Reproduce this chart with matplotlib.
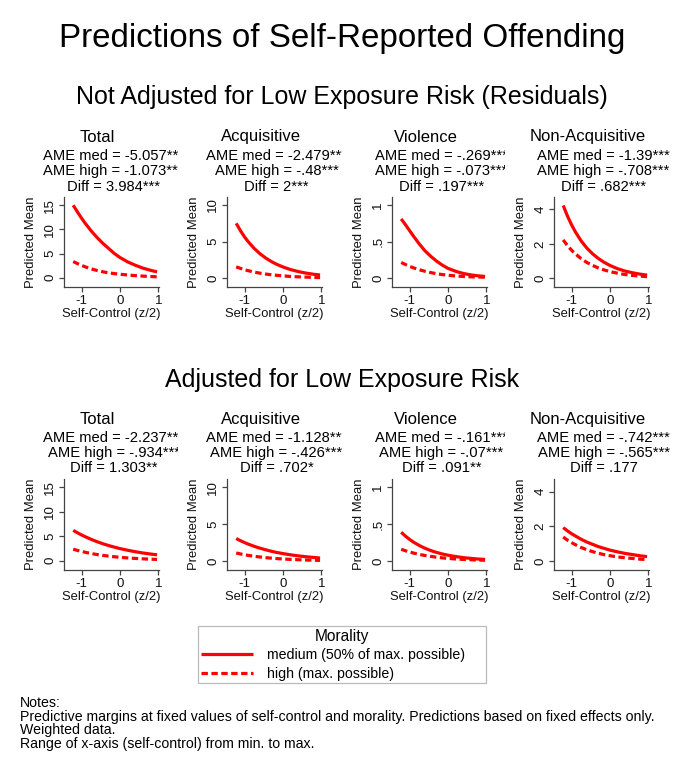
import matplotlib
matplotlib.use("Agg")
import matplotlib.pyplot as plt
from matplotlib.transforms import Bbox, TransformedBbox

plt.rcParams['font.family'] = ['Liberation Sans', 'DejaVu Sans']

# ---------------- data ----------------
categories = ['Total', 'Acquisitive', 'Violence', 'Non-Acquisitive']
self_control = [-1.22, -1.1, -1.0, -0.9, -0.75, -0.6, -0.45, -0.3, -0.15, 0.0, 0.2, 0.4, 0.6, 0.8, 0.97]

# Not adjusted (residuals)
nadj_total_med = [15.0, 13.5, 12.3, 11.2, 9.7, 8.35, 7.15, 6.1, 5.05, 4.2, 3.3, 2.6, 2.0, 1.55, 1.22]
nadj_total_high = [3.36, 2.9, 2.55, 2.25, 1.85, 1.52, 1.25, 1.03, 0.87, 0.74, 0.58, 0.45, 0.35, 0.27, 0.2]
nadj_acq_med = [7.5, 6.42, 5.63, 4.95, 4.07, 3.35, 2.76, 2.27, 1.87, 1.54, 1.18, 0.91, 0.70, 0.54, 0.44]
nadj_acq_high = [1.55, 1.33, 1.16, 1.02, 0.84, 0.69, 0.57, 0.47, 0.39, 0.32, 0.24, 0.19, 0.15, 0.11, 0.09]
nadj_viol_med = [0.81, 0.725, 0.65, 0.575, 0.47, 0.375, 0.30, 0.235, 0.18, 0.135, 0.095, 0.065, 0.045, 0.032, 0.024]
nadj_viol_high = [0.215, 0.185, 0.162, 0.142, 0.116, 0.095, 0.077, 0.062, 0.05, 0.041, 0.031, 0.024, 0.019, 0.016, 0.014]
nadj_nonacq_med = [4.23, 3.57, 3.10, 2.69, 2.17, 1.75, 1.42, 1.15, 0.93, 0.75, 0.56, 0.42, 0.32, 0.24, 0.19]
nadj_nonacq_high = [2.23, 1.88, 1.63, 1.42, 1.14, 0.92, 0.75, 0.60, 0.49, 0.39, 0.30, 0.22, 0.17, 0.13, 0.10]

# Adjusted for low exposure risk
adj_total_med = [6.2, 5.67, 5.26, 4.88, 4.36, 3.89, 3.48, 3.11, 2.78, 2.48, 2.14, 1.84, 1.58, 1.36, 1.20]
adj_total_high = [2.35, 2.08, 1.89, 1.71, 1.47, 1.26, 1.09, 0.94, 0.81, 0.69, 0.57, 0.47, 0.38, 0.31, 0.26]
adj_acq_med = [3.05, 2.74, 2.50, 2.29, 2.00, 1.75, 1.53, 1.33, 1.16, 1.02, 0.85, 0.71, 0.59, 0.50, 0.42]
adj_acq_high = [1.1, 0.96, 0.86, 0.77, 0.66, 0.56, 0.47, 0.40, 0.34, 0.29, 0.23, 0.19, 0.15, 0.12, 0.10]
adj_viol_med = [0.39, 0.334, 0.293, 0.257, 0.212, 0.174, 0.143, 0.118, 0.097, 0.080, 0.062, 0.047, 0.037, 0.028, 0.023]
adj_viol_high = [0.16, 0.139, 0.123, 0.109, 0.091, 0.076, 0.064, 0.053, 0.044, 0.037, 0.029, 0.023, 0.018, 0.014, 0.012]
adj_nonacq_med = [1.93, 1.73, 1.58, 1.45, 1.26, 1.10, 0.97, 0.84, 0.74, 0.64, 0.54, 0.45, 0.38, 0.31, 0.27]
adj_nonacq_high = [1.39, 1.20, 1.07, 0.95, 0.79, 0.66, 0.55, 0.46, 0.38, 0.32, 0.25, 0.20, 0.16, 0.12, 0.10]

nadj_ame_med = ['-5.057***', '-2.479***', '-.269***', '-1.39***']
nadj_ame_high = ['-1.073***', '-.48***', '-.073***', '-.708***']
nadj_diff = ['3.984***', '2***', '.197***', '.682***']
adj_ame_med = ['-2.237***', '-1.128***', '-.161***', '-.742***']
adj_ame_high = ['-.934***', '-.426***', '-.07***', '-.565***']
adj_diff = ['1.303**', '.702*', '.091**', '.177']

y_ticks = [[0, 5, 10, 15], [0, 5, 10], [0, .5, 1], [0, 2, 4]]
y_ticklabels = [['0', '5', '10', '15'], ['0', '5', '10'], ['0', '.5', '1'], ['0', '2', '4']]
y_limits = [(-1.9, 16.7), (-1.2, 11.1), (-0.12, 1.11), (-0.5, 4.72)]
x_ticks = [-1, 0, 1]
x_ticklabels = ['-1', '0', '1']

legend_labels = ['medium (50% of max. possible)', 'high (max. possible)']
notes = ['Notes:',
         'Predictive margins at fixed values of self-control and morality. Predictions based on fixed effects only.',
         'Weighted data.',
         'Range of x-axis (self-control) from min. to max.']

rows = [
    dict(sub='Not Adjusted for Low Exposure Risk (Residuals)',
         med=[nadj_total_med, nadj_acq_med, nadj_viol_med, nadj_nonacq_med],
         high=[nadj_total_high, nadj_acq_high, nadj_viol_high, nadj_nonacq_high],
         ame_med=nadj_ame_med, ame_high=nadj_ame_high, diff=nadj_diff),
    dict(sub='Adjusted for Low Exposure Risk',
         med=[adj_total_med, adj_acq_med, adj_viol_med, adj_nonacq_med],
         high=[adj_total_high, adj_acq_high, adj_viol_high, adj_nonacq_high],
         ame_med=adj_ame_med, ame_high=adj_ame_high, diff=adj_diff),
]

# ---------------- layout ----------------
W, H = 685, 770
fig = plt.figure(figsize=(W / 100, H / 100), dpi=100)

def fx(px):
    return px / W

def fy(py):
    return 1 - py / H

RED = '#ff0000'
AX = '#444444'
lw = 2.3
dash = (0, (2.0, 1.1))

col_left = [64, 227, 392, 554]
clip_right = [66, 67.5, 65.5, 68]
ax_w = 95
row_top = [197, 479]
row_bot = [287, 570]
sub_y = [97, 380]
title_y = [137, 420]
ame_y = [[155.5, 171.5, 187], [438.5, 453.5, 468.5]]

fig.text(fx(342), fy(38), 'Predictions of Self-Reported Offending',
         ha='center', va='center', fontsize=23.9, color='black')

handles = None
for r, row in enumerate(rows):
    fig.text(fx(342), fy(sub_y[r]), row['sub'], ha='center', va='center',
             fontsize=18.0, color='black')
    for c in range(4):
        left = col_left[c]
        ax = fig.add_axes([fx(left), fy(row_bot[r]), ax_w / W,
                           (row_bot[r] - row_top[r]) / H])
        l1, = ax.plot(self_control, row['med'][c], color=RED, lw=lw,
                      solid_capstyle='butt', solid_joinstyle='round')
        l2, = ax.plot(self_control, row['high'][c], color=RED, lw=lw,
                      linestyle=dash, dash_capstyle='butt')
        handles = [l1, l2]
        ax.set_xlim(-1.46, 1.02)
        ax.set_ylim(*y_limits[c])
        ax.set_xticks(x_ticks)
        ax.set_xticklabels(x_ticklabels)
        ax.set_yticks(y_ticks[c])
        ax.set_yticklabels(y_ticklabels[c], rotation=90, va='center')
        for s in ['top', 'right']:
            ax.spines[s].set_visible(False)
        for s in ['left', 'bottom']:
            ax.spines[s].set_color(AX)
            ax.spines[s].set_linewidth(0.9)
        ax.tick_params(axis='both', direction='out', length=3.5, width=0.9,
                       color=AX, labelsize=9.6, pad=2, labelcolor='#111111')
        ax.set_xlabel('Self-Control (z/2)', fontsize=9.4, labelpad=1, color='#111111')
        ax.set_ylabel('Predicted Mean', fontsize=9.4, color='#111111')
        ax.yaxis.set_label_coords(-27 / ax_w, 0.5)
        ax.patch.set_visible(False)

        center = left + ax_w / 2
        fig.text(fx(center - 14), fy(title_y[r]), categories[c],
                 ha='center', va='center', fontsize=12.0, color='black')
        clip = TransformedBbox(Bbox([[fx(center - 80), 0],
                                     [fx(center + clip_right[c]), 1]]),
                               fig.transFigure)
        lines = ['AME med = ' + row['ame_med'][c],
                 'AME high = ' + row['ame_high'][c],
                 'Diff = ' + row['diff'][c]]
        for k, s in enumerate(lines):
            t = fig.text(fx(center + 2), fy(ame_y[r][k]), s, ha='center',
                         va='center', fontsize=10.6, color='black')
            t.set_clip_on(True)
            t.set_clip_box(clip)

leg = fig.legend(handles, legend_labels, title='Morality',
                 loc='upper left',
                 bbox_to_anchor=(fx(198), fy(627), 288 / W, 0.001),
                 mode='expand', fontsize=10.2, title_fontsize=11.2,
                 handlelength=3.7, handletextpad=1.0, labelspacing=0.3,
                 borderpad=0.2, borderaxespad=0, fancybox=False,
                 frameon=True, framealpha=1)
leg.get_frame().set_edgecolor('#bbbbbb')
leg.get_frame().set_linewidth(0.9)

note_y = [703, 716.5, 730, 744]
for s, yy in zip(notes, note_y):
    fig.text(fx(20), fy(yy), s, ha='left', va='center', fontsize=10.2,
             color='black')

fig.savefig('out.png', dpi=100, facecolor='white')
